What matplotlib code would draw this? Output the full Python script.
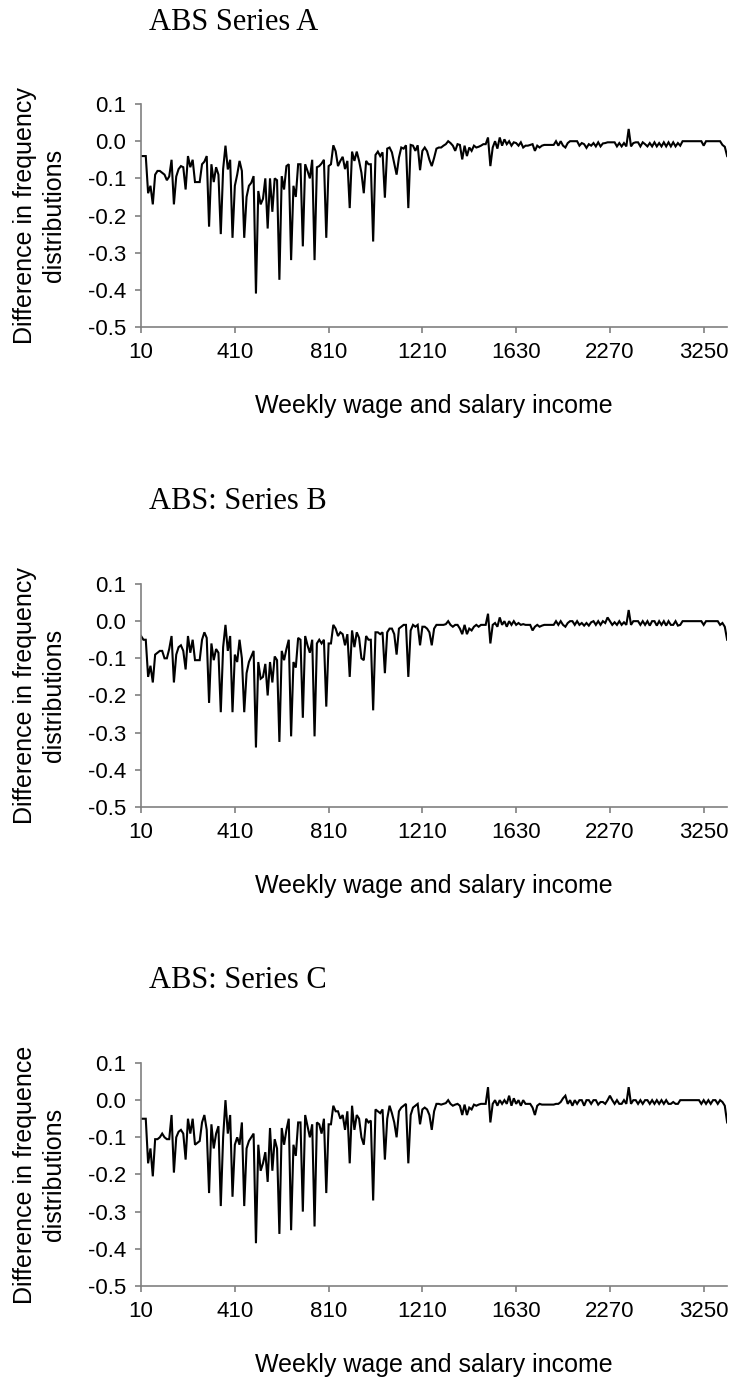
import matplotlib
matplotlib.use("Agg")
import matplotlib.pyplot as plt
import numpy as np

# ---------------- data ----------------
titles = ["ABS Series A", "ABS: Series B", "ABS: Series C"]
ylabels = ["Difference in frequency\ndistributions",
           "Difference in frequency\ndistributions",
           "Difference in frequence\ndistributions"]
xlabel = "Weekly wage and salary income"
tick_labels = ["10", "410", "810", "1210", "1630", "2270", "3250"]
tick_every = 40
y_ticks = [0.1, 0.0, -0.1, -0.2, -0.3, -0.4, -0.5]

series_a = [
    -0.04, -0.04, -0.04, -0.14, -0.12, -0.17, -0.09, -0.08, -0.08, -0.085,
    -0.09, -0.105, -0.095, -0.05, -0.17, -0.095, -0.075, -0.067, -0.07, -0.13,
    -0.04, -0.07, -0.05, -0.11, -0.11, -0.11, -0.062, -0.055, -0.04, -0.23,
    -0.062, -0.11, -0.07, -0.09, -0.25, -0.075, -0.012, -0.076, -0.05, -0.26,
    -0.12, -0.09, -0.053, -0.08, -0.26, -0.15, -0.12, -0.112, -0.094, -0.41,
    -0.134, -0.17, -0.155, -0.10, -0.235, -0.10, -0.19, -0.10, -0.105, -0.373,
    -0.094, -0.13, -0.067, -0.062, -0.32, -0.12, -0.15, -0.062, -0.062, -0.283,
    -0.062, -0.08, -0.10, -0.05, -0.32, -0.07, -0.067, -0.06, -0.05, -0.26,
    -0.067, -0.062, -0.011, -0.027, -0.067, -0.053, -0.042, -0.075, -0.053, -0.18,
    -0.028, -0.053, -0.028, -0.053, -0.085, -0.14, -0.053, -0.062, -0.062, -0.27,
    -0.037, -0.028, -0.04, -0.03, -0.152, -0.02, -0.017, -0.03, -0.06, -0.09,
    -0.044, -0.017, -0.02, -0.011, -0.18, -0.01, -0.012, -0.026, -0.011, -0.078,
    -0.026, -0.017, -0.027, -0.05, -0.067, -0.045, -0.02, -0.017, -0.017, -0.012,
    -0.008, 0.0, -0.005, -0.012, -0.026, -0.008, -0.01, -0.049, -0.012, -0.04,
    -0.017, -0.026, -0.012, -0.017, -0.015, -0.012, -0.008, -0.008, 0.01, -0.067,
    -0.017, 0.0, -0.02, 0.01, -0.012, 0.005, -0.008, 0.0, -0.012, -0.003,
    -0.005, -0.012, -0.003, -0.017, -0.012, -0.012, -0.01, -0.008, -0.026, -0.012,
    -0.017, -0.012, -0.01, -0.01, -0.01, -0.01, -0.01, 0.0, -0.012, 0.0,
    -0.012, -0.017, -0.005, 0.0, 0.0, 0.0, 0.0, -0.012, -0.005, -0.008,
    -0.018, -0.008, -0.012, -0.005, -0.014, -0.003, -0.014, -0.006, -0.005, -0.003,
    -0.003, -0.003, -0.003, -0.014, -0.005, -0.014, -0.005, -0.014, 0.033, -0.014,
    -0.005, -0.003, -0.003, -0.014, -0.003, -0.008, -0.014, -0.005, -0.014, -0.003,
    -0.014, -0.005, -0.014, -0.003, -0.014, -0.003, -0.014, -0.003, -0.014, -0.005,
    -0.012, 0.0, 0.0, 0.0, 0.0, 0.0, 0.0, 0.0, 0.0, 0.0,
    -0.012, 0.0, 0.0, 0.0, 0.0, 0.0, 0.0, 0.0, -0.01, -0.015,
    -0.04,
]

series_b = [
    -0.04, -0.05, -0.05, -0.15, -0.12, -0.165, -0.09, -0.085, -0.08, -0.08,
    -0.1, -0.1, -0.075, -0.04, -0.165, -0.09, -0.07, -0.065, -0.08, -0.13,
    -0.04, -0.085, -0.05, -0.105, -0.105, -0.105, -0.05, -0.03, -0.045, -0.22,
    -0.06, -0.105, -0.075, -0.085, -0.245, -0.07, -0.01, -0.08, -0.04, -0.245,
    -0.09, -0.11, -0.05, -0.1, -0.245, -0.14, -0.11, -0.095, -0.08, -0.34,
    -0.11, -0.155, -0.15, -0.115, -0.2, -0.11, -0.165, -0.095, -0.105, -0.325,
    -0.08, -0.105, -0.075, -0.05, -0.31, -0.11, -0.125, -0.045, -0.05, -0.26,
    -0.04, -0.065, -0.085, -0.05, -0.31, -0.06, -0.05, -0.06, -0.05, -0.23,
    -0.06, -0.06, -0.01, -0.02, -0.04, -0.03, -0.035, -0.065, -0.035, -0.15,
    -0.025, -0.07, -0.03, -0.045, -0.1, -0.105, -0.04, -0.05, -0.05, -0.24,
    -0.03, -0.03, -0.035, -0.03, -0.14, -0.03, -0.02, -0.02, -0.035, -0.09,
    -0.02, -0.015, -0.01, -0.01, -0.15, -0.025, -0.01, -0.015, -0.01, -0.065,
    -0.015, -0.015, -0.02, -0.03, -0.065, -0.02, -0.01, -0.01, -0.01, -0.01,
    -0.008, 0.0, -0.01, -0.015, -0.01, -0.01, -0.02, -0.035, -0.01, -0.035,
    -0.02, -0.025, -0.015, -0.01, -0.015, -0.01, -0.01, -0.01, 0.02, -0.06,
    -0.01, -0.005, -0.015, 0.01, -0.01, 0.0, -0.015, 0.0, -0.01, 0.0,
    -0.01, -0.005, -0.01, -0.008, -0.01, -0.01, -0.01, -0.025, -0.015, -0.01,
    -0.015, -0.012, -0.01, -0.01, -0.01, -0.01, -0.01, 0.0, -0.01, 0.0,
    -0.01, -0.015, -0.005, 0.0, 0.0, -0.01, 0.0, -0.01, -0.005, -0.012,
    -0.005, -0.012, -0.003, 0.0, -0.01, 0.0, -0.01, 0.0, -0.005, 0.01,
    0.0, -0.01, -0.003, -0.01, 0.0, -0.01, -0.003, -0.01, 0.03, -0.01,
    0.0, 0.0, 0.0, -0.01, 0.0, -0.01, 0.0, -0.012, 0.0, 0.0,
    -0.012, 0.0, -0.01, 0.0, -0.012, 0.0, -0.01, -0.01, 0.0, -0.012,
    -0.01, 0.0, 0.0, 0.0, 0.0, 0.0, 0.0, 0.0, 0.0, 0.0,
    -0.01, 0.0, 0.0, 0.0, 0.0, 0.0, 0.0, -0.01, -0.005, -0.015,
    -0.05,
]

series_c = [
    -0.05, -0.05, -0.05, -0.17, -0.13, -0.205, -0.105, -0.105, -0.1, -0.09,
    -0.1, -0.105, -0.105, -0.04, -0.195, -0.1, -0.085, -0.08, -0.09, -0.16,
    -0.05, -0.09, -0.05, -0.12, -0.115, -0.11, -0.06, -0.04, -0.08, -0.25,
    -0.065, -0.13, -0.09, -0.07, -0.285, -0.1, 0.0, -0.09, -0.04, -0.26,
    -0.12, -0.1, -0.12, -0.06, -0.285, -0.13, -0.11, -0.1, -0.09, -0.385,
    -0.12, -0.19, -0.17, -0.14, -0.22, -0.075, -0.19, -0.105, -0.13, -0.36,
    -0.075, -0.12, -0.08, -0.05, -0.35, -0.12, -0.15, -0.06, -0.06, -0.3,
    -0.04, -0.07, -0.1, -0.065, -0.34, -0.06, -0.065, -0.09, -0.05, -0.25,
    -0.065, -0.065, -0.015, -0.03, -0.03, -0.05, -0.04, -0.08, -0.03, -0.17,
    -0.015, -0.08, -0.04, -0.05, -0.1, -0.12, -0.05, -0.06, -0.055, -0.27,
    -0.025, -0.03, -0.035, -0.025, -0.16, -0.05, -0.015, -0.035, -0.06, -0.1,
    -0.03, -0.02, -0.015, -0.01, -0.17, -0.04, -0.02, -0.015, -0.01, -0.065,
    -0.025, -0.02, -0.025, -0.04, -0.08, -0.03, -0.01, -0.01, -0.012, -0.01,
    -0.008, 0.0, -0.01, -0.015, -0.012, -0.01, -0.015, -0.04, -0.012, -0.04,
    -0.02, -0.025, -0.012, -0.015, -0.012, -0.01, -0.01, -0.01, 0.035, -0.06,
    -0.01, 0.0, -0.015, 0.0, -0.01, 0.0, -0.01, 0.012, -0.015, 0.005,
    -0.01, 0.0, -0.015, 0.0, -0.01, -0.01, -0.01, -0.02, -0.04, -0.015,
    -0.01, -0.012, -0.012, -0.012, -0.012, -0.012, -0.012, -0.01, -0.01, -0.005,
    0.005, 0.012, -0.01, 0.0, -0.015, 0.0, -0.01, 0.0, 0.0, -0.015,
    0.0, 0.0, -0.01, 0.0, 0.0, -0.012, -0.005, -0.005, -0.01, 0.0,
    0.012, 0.0, -0.01, 0.0, -0.01, -0.01, 0.0, -0.01, 0.035, -0.01,
    0.0, 0.0, -0.01, 0.0, -0.01, 0.0, 0.0, -0.01, 0.0, -0.01,
    0.0, -0.01, 0.0, -0.01, 0.0, -0.01, -0.01, -0.005, -0.01, -0.01,
    0.0, 0.0, 0.0, 0.0, 0.0, 0.0, 0.0, 0.0, 0.0, -0.01,
    0.0, -0.01, 0.0, -0.01, 0.0, 0.0, -0.01, 0.0, -0.005, -0.015,
    -0.06,
]

all_series = [series_a, series_b, series_c]

# ---------------- layout ----------------
W, H = 731, 1378
fig = plt.figure(figsize=(W / 100, H / 100), dpi=100)

axes_bottoms = [0.7627, 0.4144, 0.0668]
title_baselines = [0.9782, 0.6306, 0.2830]
ax_left, ax_width, ax_height = 0.193, 0.8017, 0.1618
axis_gray = "#808080"

for k, vals in enumerate(all_series):
    ax = fig.add_axes([ax_left, axes_bottoms[k], ax_width, ax_height])
    x = np.arange(len(vals))
    ax.plot(x, vals, color="black", linewidth=1.5, solid_joinstyle="miter")
    ax.set_xlim(0, len(vals) - 1)
    ax.set_ylim(-0.5, 0.1)
    ax.set_yticks(y_ticks)
    ax.set_yticklabels([f"{t:.1f}" for t in y_ticks],
                       fontfamily="Liberation Sans", fontsize=16)
    ax.set_xticks(np.arange(len(tick_labels)) * tick_every)
    ax.set_xticklabels(tick_labels, fontfamily="Liberation Sans", fontsize=16)
    for s in ["top", "right"]:
        ax.spines[s].set_visible(False)
    for s in ["left", "bottom"]:
        ax.spines[s].set_color(axis_gray)
        ax.spines[s].set_linewidth(1.2)
    ax.tick_params(axis="both", direction="out", length=4, width=1.2,
                   color=axis_gray, labelcolor="black")
    ax.tick_params(axis="y", pad=6.5)
    ax.tick_params(axis="x", pad=7)
    ax.set_xlabel(xlabel, fontfamily="Liberation Sans", fontsize=18,
                  labelpad=22)

    fig.text(149 / W, title_baselines[k], titles[k],
             fontfamily="Liberation Serif", fontsize=22,
             ha="left", va="baseline")
    yc = axes_bottoms[k] + ax_height / 2
    fig.text(39.5 / W, yc, ylabels[k], rotation=90,
             fontfamily="Liberation Sans", fontsize=18,
             ha="center", va="center", multialignment="center",
             linespacing=1.3)

fig.savefig("out.png", dpi=100)
